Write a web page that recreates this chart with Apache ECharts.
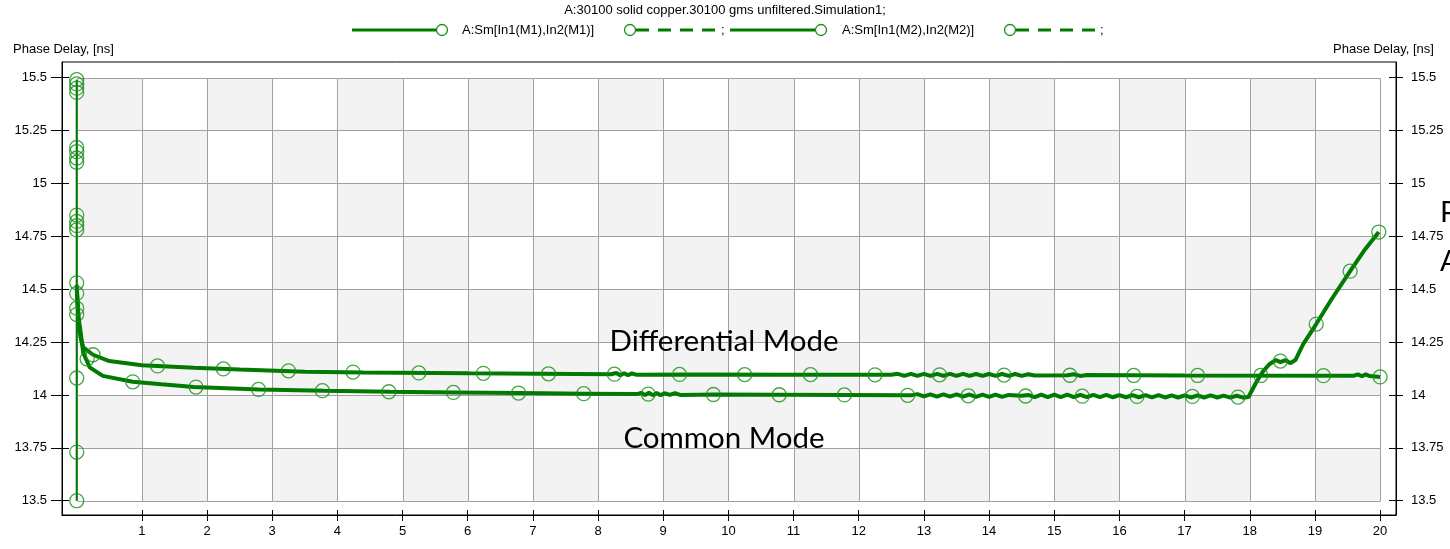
<!DOCTYPE html>
<html>
<head>
<meta charset="utf-8">
<script src="https://cdn.jsdelivr.net/npm/echarts@6.0.0/dist/echarts.min.js"></script>
<style>
  html, body { margin: 0; padding: 0; background: #fff; }
  #chart { width: 1450px; height: 549px; }
</style>
</head>
<body>
<div id="chart"></div>
<script>
// tick labels
const xTicks = [1, 2, 3, 4, 5, 6, 7, 8, 9, 10, 11, 12, 13, 14, 15, 16, 17, 18, 19, 20];
const yTicks = [13.5, 13.75, 14, 14.25, 14.5, 14.75, 15, 15.25, 15.5];

// vertical jump at the first frequency points
const spike = [[0, 13.5], [0, 15.49]];

// Differential mode (upper curve)
const diffMode = [
  [0.0, 14.52], [0.03, 14.34], [0.06, 14.27], [0.1, 14.225], [0.25, 14.19], [0.5, 14.16],
  [1.0, 14.14], [1.8, 14.128], [2.5, 14.12], [3.5, 14.11], [4.4, 14.106], [6.0, 14.102],
  [8.2, 14.098], [8.28, 14.104], [8.34, 14.093], [8.4, 14.103], [8.46, 14.093], [8.52, 14.102],
  [8.58, 14.096], [9.5, 14.097], [11.0, 14.096], [12.5, 14.095], [12.6, 14.1], [12.7, 14.09],
  [12.8, 14.1], [12.9, 14.09], [13.0, 14.1], [13.1, 14.09], [13.2, 14.1], [13.3, 14.09],
  [13.4, 14.1], [13.5, 14.09], [13.6, 14.1], [13.7, 14.09], [13.8, 14.099], [13.9, 14.09],
  [14.0, 14.099], [14.1, 14.09], [14.2, 14.099], [14.3, 14.09], [14.4, 14.099], [14.5, 14.09],
  [14.6, 14.098], [14.7, 14.092], [15.2, 14.093], [15.3, 14.098], [15.4, 14.09], [15.5, 14.094],
  [17.0, 14.092], [19.6, 14.091], [19.66, 14.097], [19.72, 14.088], [19.78, 14.097], [19.84, 14.089],
  [20.0, 14.085]
];

// Common mode (lower curve)
const commonMode = [
  [0.0, 14.5], [0.03, 14.36], [0.05, 14.32], [0.1, 14.2], [0.2, 14.13], [0.4, 14.09],
  [0.86, 14.062], [1.3, 14.05], [1.8, 14.037], [2.8, 14.026], [3.8, 14.02], [4.8, 14.015],
  [5.8, 14.012], [6.8, 14.009], [7.8, 14.006], [8.6, 14.004], [8.66, 14.01], [8.72, 13.999],
  [8.78, 14.01], [8.84, 13.999], [8.9, 14.009], [8.96, 13.999], [9.02, 14.008], [9.1, 14.0],
  [9.18, 14.008], [9.26, 14.0], [9.8, 14.002], [10.8, 14.001], [11.8, 14.0], [12.8, 13.998],
  [12.9, 14.004], [13.0, 13.993], [13.1, 14.003], [13.2, 13.992], [13.3, 14.003], [13.4, 13.992],
  [13.5, 14.003], [13.6, 13.992], [13.7, 14.002], [13.8, 13.991], [13.9, 14.002], [14.0, 13.991],
  [14.1, 14.002], [14.2, 13.991], [14.3, 14.0], [14.5, 13.996], [14.6, 14.0], [14.7, 13.99],
  [14.8, 14.001], [14.9, 13.99], [15.0, 14.001], [15.1, 13.99], [15.2, 14.001], [15.3, 13.99],
  [15.4, 14.0], [15.5, 13.99], [15.6, 14.0], [15.7, 13.99], [15.8, 14.0], [15.9, 13.989],
  [16.0, 13.999], [16.1, 13.989], [16.2, 13.999], [16.3, 13.989], [16.4, 13.999], [16.5, 13.988],
  [16.6, 13.999], [16.7, 13.988], [16.8, 13.998], [16.9, 13.988], [17.0, 13.998], [17.1, 13.988],
  [17.2, 13.998], [17.3, 13.988], [17.4, 13.998], [17.5, 13.988], [17.6, 13.997], [17.7, 13.987],
  [17.8, 13.996], [17.9, 13.987], [17.98, 13.99], [18.1, 14.06], [18.2, 14.11], [18.3, 14.145],
  [18.4, 14.165], [18.47, 14.155], [18.55, 14.165], [18.62, 14.15], [18.7, 14.165], [18.82, 14.24],
  [19.02, 14.335], [19.25, 14.45], [19.54, 14.585], [19.75, 14.68], [19.98, 14.77]
];

// marker positions
const startMarkers = [
  [0, 15.49], [0, 15.47], [0, 15.45], [0, 15.43], [0, 15.17], [0, 15.15], [0, 15.12], [0, 15.1],
  [0, 14.85], [0, 14.82], [0, 14.8], [0, 14.78], [0, 14.53], [0, 14.48], [0, 14.41], [0, 14.38],
  [0, 14.08], [0, 13.73], [0, 13.5], [0.16, 14.17], [0.25, 14.19]
];
const diffMarkers = [
  [1.24, 14.137], [2.25, 14.123], [3.25, 14.114], [4.24, 14.108], [5.25, 14.104], [6.24, 14.102],
  [7.24, 14.1], [8.25, 14.098], [9.25, 14.097], [10.25, 14.096], [11.26, 14.096], [12.25, 14.095],
  [13.24, 14.095], [14.23, 14.094], [15.24, 14.093], [16.22, 14.092], [17.2, 14.092], [18.17, 14.092],
  [19.13, 14.091], [20.0, 14.085]
];
const commonMarkers = [
  [0.86, 14.062], [1.83, 14.037], [2.79, 14.026], [3.77, 14.02], [4.79, 14.015], [5.78, 14.012],
  [6.78, 14.009], [7.78, 14.006], [8.77, 14.004], [9.77, 14.002], [10.78, 14.001], [11.78, 14.0],
  [12.75, 13.998], [13.68, 13.996], [14.56, 13.995], [15.43, 13.994], [16.27, 13.993], [17.12, 13.993],
  [17.82, 13.99], [18.47, 14.16], [19.02, 14.335], [19.54, 14.585], [19.98, 14.77]
];

const GREEN = '#007a00';
const MARK = '#168e16';
const FONT = 'Liberation Sans';

// checkerboard cells (lower-left corner of each cell)
const cells = [];
for (let c = 0; c < 20; c++) {
  for (let i = 0; i < yTicks.length - 1; i++) cells.push([c, yTicks[i], i]);
}

const chart = echarts.init(document.getElementById('chart'));

const Y_MIN = 13.4325, Y_MAX = 15.5737;
const outerY = (pos, len) => ({
  type: 'value', min: Y_MIN, max: Y_MAX, position: pos,
  splitLine: { show: false },
  axisLine: { show: true, onZero: false, lineStyle: { color: '#000', width: 1 } },
  axisTick: { show: true, customValues: yTicks, length: len, lineStyle: { color: '#000' } },
  axisLabel: { customValues: yTicks, color: '#000', fontFamily: FONT, fontSize: 13, margin: 15 }
});
const innerY = (pos, len) => ({
  type: 'value', min: Y_MIN, max: Y_MAX, position: pos,
  splitLine: { show: false },
  axisLine: { show: false, onZero: false },
  axisTick: { show: true, inside: true, customValues: yTicks, length: len, lineStyle: { color: '#000' } },
  axisLabel: { show: false }
});

const option = {
  animation: false,
  backgroundColor: '#fff',
  grid: { left: 62, right: 54, top: 62, bottom: 34, containLabel: false, show: true, borderColor: '#000', borderWidth: 1, backgroundColor: '#fff' },
  xAxis: [{
    type: 'value', min: -0.2256, max: 20.244,
    splitLine: { show: false },
    axisLine: { show: true, onZero: false, lineStyle: { color: '#000', width: 1 } },
    axisTick: { show: true, customValues: xTicks, length: 6, lineStyle: { color: '#000' } },
    axisLabel: { customValues: xTicks, color: '#000', fontFamily: FONT, fontSize: 13, margin: 10 }
  }, {
    type: 'value', min: -0.2256, max: 20.244, position: 'bottom',
    splitLine: { show: false },
    axisLine: { show: false, onZero: false },
    axisTick: { show: true, inside: true, customValues: xTicks, length: 5, lineStyle: { color: '#000' } },
    axisLabel: { show: false }
  }],
  yAxis: [
    outerY('left', 11),
    outerY('right', 7),
    innerY('left', 7),
    innerY('right', 7)
  ],
  graphic: [
    { type: 'text', left: 'center', top: 4, style: { text: 'A:30100 solid copper.30100 gms unfiltered.Simulation1;', fill: '#000', font: '13px "Liberation Sans"' } },
    // legend row
    { type: 'line', shape: { x1: 352, y1: 30, x2: 437, y2: 30 }, style: { stroke: GREEN, lineWidth: 3 } },
    { type: 'circle', shape: { cx: 442, cy: 30, r: 5.5 }, style: { fill: 'none', stroke: MARK, lineWidth: 1.3 } },
    { type: 'text', x: 462, y: 30, style: { text: 'A:Sm[In1(M1),In2(M1)]', fill: '#000', font: '13px "Liberation Sans"', verticalAlign: 'middle' } },
    { type: 'circle', shape: { cx: 630, cy: 30, r: 5.5 }, style: { fill: 'none', stroke: MARK, lineWidth: 1.3 } },
    { type: 'line', shape: { x1: 636, y1: 30, x2: 715, y2: 30 }, style: { stroke: GREEN, lineWidth: 3, lineDash: [13, 9] } },
    { type: 'text', x: 721, y: 30, style: { text: ';', fill: '#000', font: '13px "Liberation Sans"', verticalAlign: 'middle' } },
    { type: 'line', shape: { x1: 730, y1: 30, x2: 815, y2: 30 }, style: { stroke: GREEN, lineWidth: 3 } },
    { type: 'circle', shape: { cx: 821, cy: 30, r: 5.5 }, style: { fill: 'none', stroke: MARK, lineWidth: 1.3 } },
    { type: 'text', x: 842, y: 30, style: { text: 'A:Sm[In1(M2),In2(M2)]', fill: '#000', font: '13px "Liberation Sans"', verticalAlign: 'middle' } },
    { type: 'circle', shape: { cx: 1010, cy: 30, r: 5.5 }, style: { fill: 'none', stroke: MARK, lineWidth: 1.3 } },
    { type: 'line', shape: { x1: 1016, y1: 30, x2: 1095, y2: 30 }, style: { stroke: GREEN, lineWidth: 3, lineDash: [13, 9] } },
    { type: 'text', x: 1100, y: 30, style: { text: ';', fill: '#000', font: '13px "Liberation Sans"', verticalAlign: 'middle' } },
    // axis names
    { type: 'text', x: 13, y: 49, style: { text: 'Phase Delay, [ns]', fill: '#000', font: '13px "Liberation Sans"', verticalAlign: 'middle' } },
    { type: 'text', x: 1333, y: 49, style: { text: 'Phase Delay, [ns]', fill: '#000', font: '13px "Liberation Sans"', verticalAlign: 'middle' } },
    // annotations
    { type: 'text', x: 724, y: 341, z: 100, style: { text: 'Differential Mode', fill: '#000', font: '29.5px Lato', align: 'center', verticalAlign: 'middle' } },
    { type: 'text', x: 724, y: 438, z: 100, style: { text: 'Common Mode', fill: '#000', font: '29.5px Lato', align: 'center', verticalAlign: 'middle' } },
    { type: 'text', x: 1440, y: 213, style: { text: 'P', fill: '#000', font: '29px Lato', verticalAlign: 'middle' } },
    { type: 'text', x: 1440, y: 262, style: { text: 'A', fill: '#000', font: '29px Lato', verticalAlign: 'middle' } }
  ],
  series: [
    {
      type: 'custom',
      silent: true,
      z: 0,
      data: cells,
      renderItem: function (params, api) {
        const c = api.value(0), y0 = api.value(1), i = api.value(2);
        const p0 = api.coord([c, y0 + 0.25]);
        const p1 = api.coord([c + 1, y0]);
        const x = Math.round(p0[0]) + 0.5, y = Math.round(p0[1]) + 0.5;
        return {
          type: 'rect',
          shape: { x: x, y: y, width: Math.round(p1[0]) - Math.round(p0[0]), height: Math.round(p1[1]) - Math.round(p0[1]) },
          style: { fill: (c + i) % 2 === 1 ? '#f3f3f3' : '#ffffff', stroke: '#a0a0a0', lineWidth: 1 }
        };
      }
    },
    { type: 'line', data: spike, showSymbol: false, lineStyle: { color: GREEN, width: 2 }, z: 2 },
    { type: 'line', name: 'A:Sm[In1(M1),In2(M1)]', data: diffMode, showSymbol: false, lineStyle: { color: GREEN, width: 4 }, z: 3 },
    { type: 'line', name: 'A:Sm[In1(M2),In2(M2)]', data: commonMode, showSymbol: false, lineStyle: { color: GREEN, width: 4 }, z: 3 },
    {
      type: 'scatter', data: startMarkers.concat(diffMarkers, commonMarkers),
      symbol: 'circle', symbolSize: 14,
      itemStyle: { color: 'rgba(0,0,0,0)', borderColor: MARK, borderWidth: 1.3 }, z: 4
    }
  ]
};

chart.setOption(option);
</script>
</body>
</html>
